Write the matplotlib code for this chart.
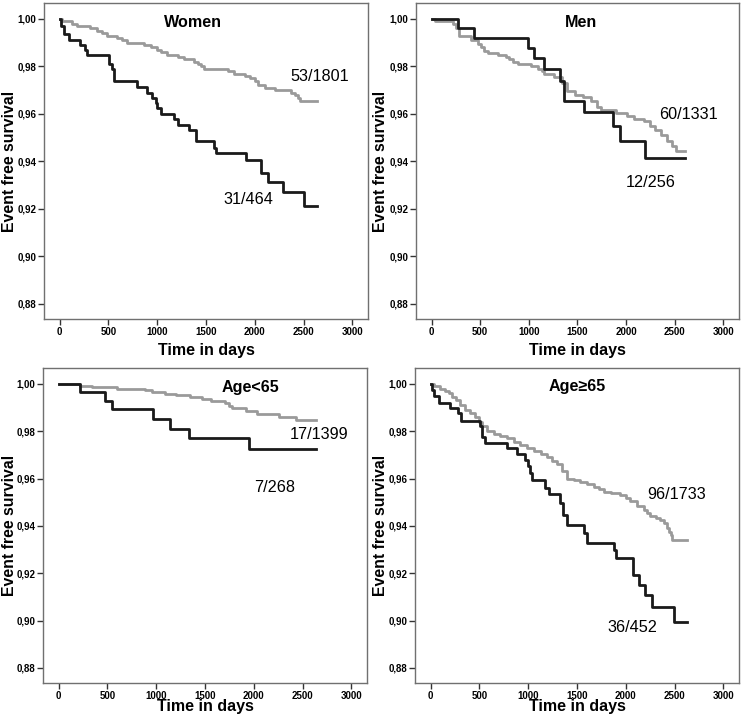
import matplotlib

matplotlib.use("Agg")
import matplotlib.pyplot as plt
from matplotlib.ticker import FuncFormatter

plt.rcParams["font.family"] = ["Liberation Sans", "DejaVu Sans"]

# Kaplan-Meier steps: event times (days) and survival after each step
women_low_t = [14, 41, 93, 213, 264, 281, 505, 539, 556, 796, 899, 951, 985, 1002, 1037,
               1174, 1208, 1328, 1397, 1586, 1603, 1912, 2066, 2135, 2290, 2502]
women_low_s = [0.9970, 0.9937, 0.9913, 0.9890, 0.9870, 0.9850, 0.9810, 0.9787, 0.9737,
               0.9713, 0.9690, 0.9667, 0.9646, 0.9625, 0.9600, 0.9580, 0.9555, 0.9530,
               0.9484, 0.9456, 0.9435, 0.9407, 0.9350, 0.9311, 0.9270, 0.9213]
women_high_t = [24, 127, 178, 316, 384, 436, 487, 590, 642, 693, 865, 934, 1002, 1037,
                1105, 1208, 1277, 1380, 1414, 1449, 1483, 1723, 1792, 1895, 1946, 1998,
                2032, 2101, 2204, 2375, 2410, 2444, 2461]
women_high_s = [0.999, 0.998, 0.997, 0.996, 0.995, 0.994, 0.993, 0.992, 0.991, 0.990,
                0.989, 0.988, 0.987, 0.986, 0.985, 0.984, 0.983, 0.982, 0.981, 0.980,
                0.979, 0.978, 0.977, 0.976, 0.975, 0.974, 0.972, 0.971, 0.970, 0.969,
                0.968, 0.9665, 0.9655]
women_end = [2633, 2633]

men_low_t = [270, 434, 987, 1055, 1157, 1325, 1359, 1563, 1864, 1939, 2195]
men_low_s = [0.9961, 0.9921, 0.9879, 0.9834, 0.9789, 0.9737, 0.9653, 0.9606, 0.9547,
             0.9487, 0.9414]
men_high_t = [31, 218, 253, 287, 406, 474, 509, 543, 577, 679, 765, 799, 833, 884, 1020,
              1089, 1140, 1157, 1256, 1345, 1393, 1470, 1560, 1640, 1700, 1740, 1900,
              2010, 2080, 2180, 2250, 2300, 2360, 2420, 2470, 2510]
men_high_s = [0.999, 0.998, 0.996, 0.993, 0.991, 0.9895, 0.988, 0.9865, 0.9855, 0.985,
              0.984, 0.983, 0.982, 0.981, 0.980, 0.979, 0.978, 0.977, 0.9755, 0.973,
              0.9695, 0.968, 0.967, 0.9655, 0.963, 0.9615, 0.9605, 0.959, 0.958, 0.957,
              0.955, 0.953, 0.951, 0.9485, 0.9465, 0.9445]
men_end = [2604, 2608]

young_low_t = [216, 474, 543, 972, 1143, 1333, 1950]
young_low_s = [0.9966, 0.9928, 0.9893, 0.9851, 0.9811, 0.9771, 0.9724]
young_high_t = [216, 337, 600, 886, 955, 1086, 1200, 1350, 1470, 1560, 1710, 1744, 1779,
                1916, 2036, 2259, 2430]
young_high_s = [0.9993, 0.9986, 0.9979, 0.9972, 0.9965, 0.9958, 0.9951, 0.9944, 0.9937,
                0.9929, 0.9921, 0.9908, 0.9896, 0.9884, 0.9872, 0.9860, 0.9848]
young_end = [2636, 2636]

old_low_t = [14, 38, 82, 202, 277, 311, 503, 527, 561, 783, 886, 972, 996, 1016, 1043,
             1177, 1211, 1327, 1358, 1396, 1567, 1601, 1875, 1899, 2070, 2131, 2200,
             2268, 2491]
old_low_s = [0.9975, 0.9949, 0.9921, 0.9900, 0.9876, 0.9844, 0.9820, 0.9777, 0.9752,
             0.9728, 0.9704, 0.9679, 0.9654, 0.9623, 0.9592, 0.9559, 0.9534, 0.9496,
             0.9446, 0.9404, 0.9369, 0.9327, 0.9299, 0.9266, 0.9193, 0.9151, 0.9108,
             0.9059, 0.8993]
old_high_t = [31, 99, 151, 185, 219, 263, 304, 356, 407, 458, 493, 527, 578, 647, 715,
              783, 852, 920, 989, 1057, 1126, 1194, 1245, 1297, 1348, 1396, 1468, 1533,
              1605, 1670, 1724, 1772, 1844, 1943, 1998, 2046, 2115, 2183, 2220, 2251,
              2306, 2354, 2388, 2419, 2439, 2460, 2474]
old_high_s = [0.999, 0.998, 0.997, 0.996, 0.9945, 0.993, 0.991, 0.989, 0.9875, 0.986,
              0.984, 0.982, 0.980, 0.979, 0.978, 0.977, 0.9755, 0.974, 0.973, 0.9717,
              0.9705, 0.969, 0.9675, 0.9661, 0.963, 0.960, 0.9593, 0.9586, 0.9576,
              0.9566, 0.9555, 0.9545, 0.9538, 0.9531, 0.9517, 0.9503, 0.9485, 0.9468,
              0.9454, 0.944, 0.9432, 0.9425, 0.9411, 0.939, 0.9376, 0.936, 0.9341]
old_end = [2627, 2627]

titles = ["Women", "Men", "Age<65", "Age≥65"]
count_labels = [("53/1801", "31/464"), ("60/1331", "12/256"),
                ("17/1399", "7/268"), ("96/1733", "36/452")]
y_ticks = [0.88, 0.90, 0.92, 0.94, 0.96, 0.98, 1.00]
x_ticks = [0, 500, 1000, 1500, 2000, 2500, 3000]

panels = [
    (women_high_t, women_high_s, women_low_t, women_low_s, women_end),
    (men_high_t, men_high_s, men_low_t, men_low_s, men_end),
    (young_high_t, young_high_s, young_low_t, young_low_s, young_end),
    (old_high_t, old_high_s, old_low_t, old_low_s, old_end),
]

# text placement in data coords: title, grey count label, black count label
text_pos = [
    ((1363, 0.9986), (2667, 0.9756), (1930, 0.9238)),
    ((1540, 0.9986), (2642, 0.9597), (2250, 0.9313)),
    ((1964, 0.9986), (2667, 0.9785), (2211, 0.9562)),
    ((1499, 0.9989), (2516, 0.9531), (2072, 0.8971)),
]

W, H = 744, 719
axes_px = [(44, 3, 368, 319), (416, 3, 739, 319),
           (43, 368, 367, 683), (415, 368, 739, 683)]
# centre of the axis titles in pixels (y label x position, x label y position)
ylabel_x = [10, 381, 10, 381]
xlabel_y = [350, 350, 707, 707]


def km_curve(times, surv, end):
    t = [0] + list(times) + [end]
    s = [1.0] + list(surv) + [surv[-1]]
    return t, s


fig = plt.figure(figsize=(W / 100, H / 100), dpi=100)

for i, (ht, hs, lt, ls, ends) in enumerate(panels):
    x0, y0, x1, y1 = axes_px[i]
    aw, ah = x1 - x0, y1 - y0
    ax = fig.add_axes([x0 / W, 1 - y1 / H, aw / W, ah / H])

    t, s = km_curve(ht, hs, ends[1])
    ax.step(t, s, where="post", color="#9a9a9a", lw=2.0)
    t, s = km_curve(lt, ls, ends[0])
    ax.step(t, s, where="post", color="#1a1a1a", lw=2.0)

    ax.set_xlim(-160, 3160)
    ax.set_ylim(0.8736, 1.0067)
    ax.set_xticks(x_ticks)
    ax.set_yticks(y_ticks)
    ax.yaxis.set_major_formatter(FuncFormatter(lambda v, p: f"{v:.2f}".replace(".", ",")))
    ax.tick_params(length=4, width=1, color="#333333", labelsize=7, pad=1.5)
    for lab in ax.get_xticklabels() + ax.get_yticklabels():
        lab.set_fontweight("bold")
    for sp in ax.spines.values():
        sp.set_color("#707070")
        sp.set_linewidth(1.0)

    ax.set_ylabel("Event free survival", fontsize=11.4, fontweight="bold")
    ax.set_xlabel("Time in days", fontsize=11.5, fontweight="bold")
    ax.yaxis.set_label_coords((ylabel_x[i] - x0) / aw, 0.5)
    ax.yaxis.label.set_va("center")
    ax.xaxis.set_label_coords(0.5, (y1 - xlabel_y[i]) / ah)
    ax.xaxis.label.set_va("center")

    (tx, ty), (gx, gy), (bx, by) = text_pos[i]
    ax.text(tx, ty, titles[i], fontsize=11.6, fontweight="bold", ha="center", va="center")
    ax.text(gx, gy, count_labels[i][0], fontsize=11.7, ha="center", va="center")
    ax.text(bx, by, count_labels[i][1], fontsize=11.7, ha="center", va="center")

fig.savefig("out.png", dpi=100)
plt.close(fig)
